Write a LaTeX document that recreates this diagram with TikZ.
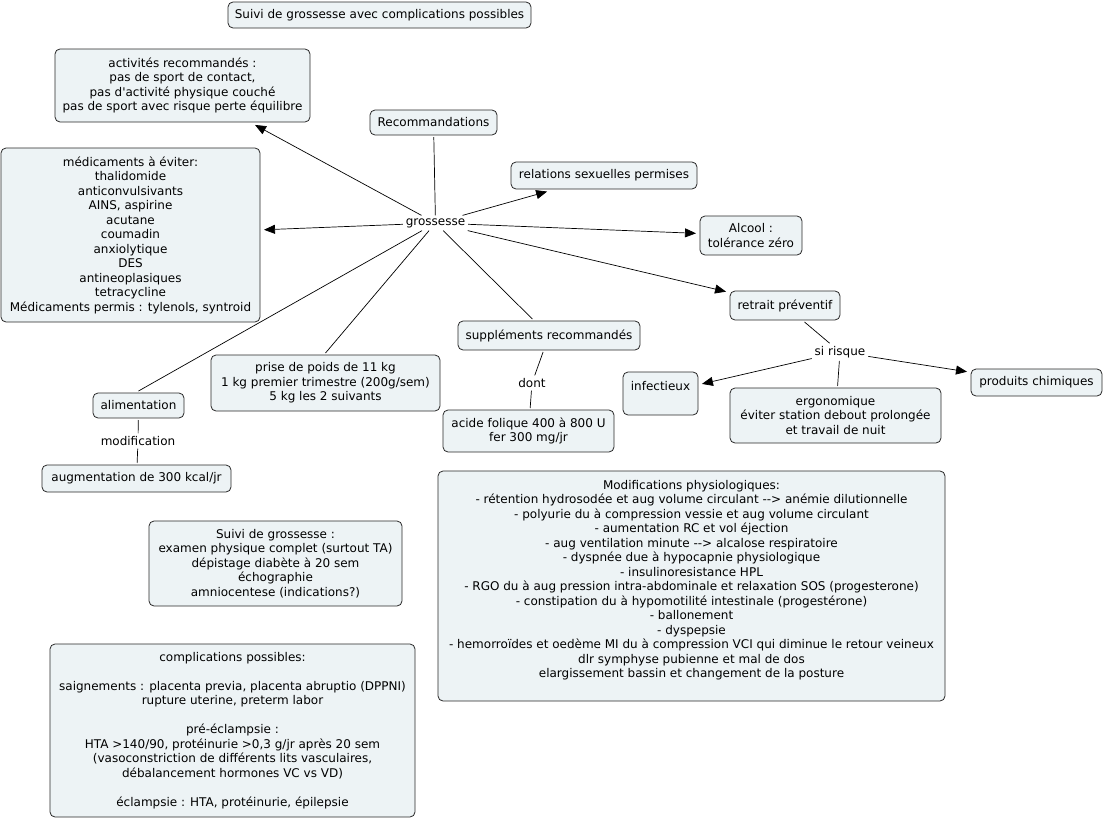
\documentclass[tikz,border=0pt]{standalone}
\usepackage{fontspec}
\setmainfont{DejaVu Sans}
\usetikzlibrary{arrows.meta}
\definecolor{boxfill}{RGB}{237,243,245}
\definecolor{boxline}{RGB}{40,40,40}
\begin{document}
\begin{tikzpicture}[x=1pt,y=-1pt,
  every node/.style={font=\fontsize{12}{14.5}\selectfont, align=center},
  cbox/.style={draw=boxline, fill=boxfill, rounded corners=5pt, line width=0.8pt, inner sep=2pt, outer sep=2pt},
  lbl/.style={inner sep=3pt, outer sep=0pt},
  conn/.style={draw=black, line width=0.7pt},
  arr/.style={conn, -{Triangle[length=11pt,width=9pt]}, shorten >=2pt}]
\useasboundingbox (0,0) rectangle (1104,819);

\node[cbox, minimum width=303pt, minimum height=26pt] (title) at (379.5,15) {Suivi de grossesse avec complications possibles};
\node[cbox, minimum width=255pt, minimum height=73pt] (act) at (182.5,85.5) {activités recommandés :\\pas de sport de contact,\\pas d\textquotesingle activité physique couché\\pas de sport avec risque perte équilibre};
\node[cbox, minimum width=127pt, minimum height=25pt] (rec) at (433.5,122.5) {Recommandations};
\node[cbox, minimum width=259pt, minimum height=174pt] (med) at (130.5,235) {médicaments à éviter:\\thalidomide\\anticonvulsivants\\AINS, aspirine\\acutane\\coumadin\\anxiolytique\\DES\\antineoplasiques\\tetracycline\\Médicaments permis : tylenols, syntroid};
\node[cbox, minimum width=186pt, minimum height=27pt] (rel) at (604,175.5) {relations sexuelles permises};
\node[lbl] (g) at (435.5,223) {grossesse};
\node[cbox, minimum width=102pt, minimum height=39pt] (alc) at (751,235.5) {Alcool :\\tolérance zéro};
\node[cbox, minimum width=110pt, minimum height=29pt] (ret) at (785,305.5) {retrait préventif};
\node[cbox, minimum width=182pt, minimum height=29pt] (sup) at (549,335.5) {suppléments recommandés};
\node[cbox, minimum width=229pt, minimum height=56pt] (pp) at (325.5,383) {prise de poids de 11 kg\\1 kg premier trimestre (200g/sem)\\5 kg les 2 suivants};
\node[cbox, minimum width=91pt, minimum height=25pt] (alim) at (138.5,405.5) {alimentation};
\node[lbl] (modif) at (138,441) {modification};
\node[cbox, minimum width=189pt, minimum height=27pt] (aug) at (136.5,478.5) {augmentation de 300 kcal/jr};
\node[lbl] (dont) at (532,383) {dont};
\node[cbox, minimum width=171pt, minimum height=42pt] (acide) at (528.5,431) {acide folique 400 à 800 U\\fer 300 mg/jr};
\node[lbl] (si) at (840,352) {si risque};
\node[cbox, minimum width=75pt, minimum height=43pt] (inf) at (660.5,393.5) {infectieux\\\mbox{}};
\node[cbox, minimum width=211pt, minimum height=55pt] (ergo) at (835.5,415.5) {ergonomique\\éviter station debout prolongée\\et travail de nuit};
\node[cbox, minimum width=131pt, minimum height=27pt] (chim) at (1036.5,382.5) {produits chimiques};
\node[cbox, minimum width=507pt, minimum height=230pt] (phys) at (691.5,586) {Modifications physiologiques:\\- rétention hydrosodée et aug volume circulant -{}-> anémie dilutionnelle\\- polyurie du à compression vessie et aug volume circulant\\- aumentation RC et vol éjection\\- aug ventilation minute -{}-> alcalose respiratoire\\- dyspnée due à hypocapnie physiologique\\- insulinoresistance HPL\\- RGO du à aug pression intra-abdominale et relaxation SOS (progesterone)\\- constipation du à hypomotilité intestinale (progestérone)\\- ballonement\\- dyspepsie\\- hemorroïdes et oedème MI du à compression VCI qui diminue le retour veineux\\dlr symphyse pubienne et mal de dos\\elargissement bassin et changement de la posture\\\mbox{}};
\node[cbox, minimum width=253pt, minimum height=85pt] (suivi) at (275.5,563.5) {Suivi de grossesse :\\examen physique complet (surtout TA)\\dépistage diabète à 20 sem\\échographie\\amniocentese (indications?)};
\node[cbox, minimum width=365pt, minimum height=173pt] (comp) at (232.5,730.5) {complications possibles:\\[14.5pt]saignements : placenta previa, placenta abruptio (DPPNI)\\rupture uterine, preterm labor\\[14.5pt]pré-éclampsie :\\HTA >140/90, protéinurie >0,3 g/jr après 20 sem\\(vasoconstriction de différents lits vasculaires,\\débalancement hormones VC vs VD)\\[14.5pt]éclampsie : HTA, protéinurie, épilepsie};

\draw[conn] (rec) -- (g);
\draw[arr] (g) -- (act);
\draw[arr] (g) -- (med);
\draw[arr] (g) -- (rel);
\draw[arr] (g) -- (alc);
\draw[arr] (g) -- (ret);
\draw[conn] (g) -- (sup);
\draw[conn] (g) -- (pp.north);
\draw[conn] (g) -- (alim.north);
\draw[conn] (alim) -- (modif);
\draw[conn] (modif) -- (aug);
\draw[conn] (sup) -- (dont);
\draw[conn] (dont) -- (acide);
\draw[conn] (ret) -- (si);
\draw[arr] (si) -- (inf);
\draw[conn] (si) -- (ergo);
\draw[arr] (si) -- (chim);
\end{tikzpicture}
\end{document}
